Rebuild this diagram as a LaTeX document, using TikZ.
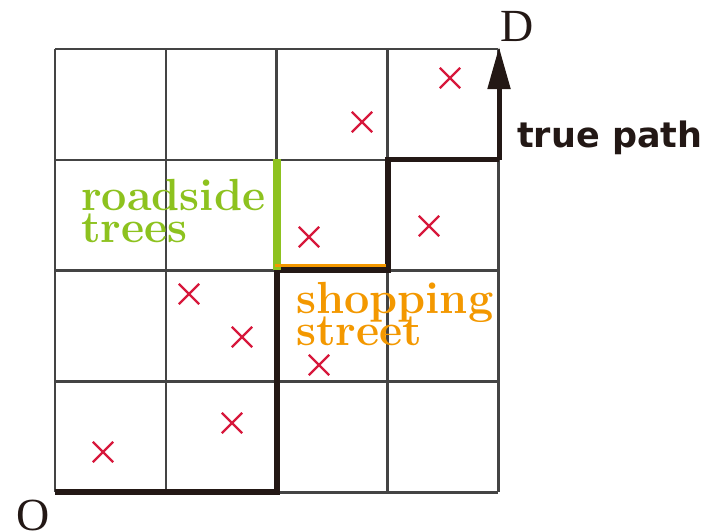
\documentclass[tikz,border=0pt]{standalone}
\usepackage{fontspec}
\newfontfamily\serifD{Liberation Serif}
\newfontfamily\sansT{DejaVu Sans}
\usetikzlibrary{arrows.meta,shapes.misc}
\definecolor{gridgray}{HTML}{444444}
\definecolor{pathblack}{HTML}{231815}
\definecolor{treegreen}{HTML}{8DC21F}
\definecolor{shoporange}{HTML}{F39800}
\definecolor{crossred}{HTML}{D7183C}
\tikzset{
  gridline/.style={draw=gridgray, line width=2.6pt},
  truepath/.style={draw=pathblack, line width=5.8pt, line join=miter},
  xmark/.style={cross out, draw=crossred, line width=2.3pt, minimum size=18pt, inner sep=0pt},
  endlabel/.style={font=\serifD\fontsize{46}{46}\selectfont, text=pathblack, inner sep=0pt},
  greenlabel/.style={font=\bfseries\fontsize{45}{32}\selectfont, text=treegreen, inner sep=0pt, anchor=base west},
  orangelabel/.style={font=\bfseries\fontsize{45}{32}\selectfont, text=shoporange, inner sep=0pt, anchor=base west},
}
\begin{document}
\begin{tikzpicture}[x=1pt,y=-1pt]
\useasboundingbox (0,0) rectangle (714,531);
% grid
\foreach \i in {0,...,4} {
  \draw[gridline] (55+110.8*\i,49) -- (55+110.8*\i,492.2);
  \draw[gridline] (55,49+110.8*\i) -- (498.2,49+110.8*\i);
}
% path corners
\coordinate (p0) at (55,492);
\coordinate (p1) at (277,492);
\coordinate (p2) at (277,270);
\coordinate (p3) at (388,270);
\coordinate (p4) at (388,159.5);
\coordinate (p5) at (499,159.5);
\coordinate (p6) at (499,47);
% roadside trees and shopping street edges
\coordinate (g0) at (277,159);
\coordinate (g1) at (277,270);
\coordinate (s0) at (275,265.5);
\coordinate (s1) at (386,265.5);
\draw[truepath] (p0) -- (p1) -- (p2) -- (p3) -- (p4) -- (p5);
\draw[draw=pathblack, line width=5pt, -{Triangle[length=42pt,width=22pt]}] (p5) -- (p6);
\draw[draw=treegreen, line width=8pt] (g0) -- (g1);
\draw[draw=shoporange, line width=3.5pt] (s0) -- (s1);
% crosses
\node[xmark] (x1) at (450,78) {};
\node[xmark] (x2) at (362,122) {};
\node[xmark] (x3) at (309,237) {};
\node[xmark] (x4) at (429,226) {};
\node[xmark] (x5) at (189,294) {};
\node[xmark] (x6) at (242,337) {};
\node[xmark] (x7) at (319,365) {};
\node[xmark] (x8) at (232,423) {};
\node[xmark] (x9) at (103,452) {};
% labels
\node[endlabel] (D) at (517,26) {D};
\node[endlabel] (O) at (33,515) {O};
\node[font=\sansT\bfseries\fontsize{35}{35}\selectfont, text=pathblack, inner sep=0pt, anchor=base west] (tp) at (517,147) {true path};
\node[greenlabel] (rt1) at (81,210) {roadside};
\node[greenlabel] (rt2) at (81,242) {trees};
\node[orangelabel] (ss1) at (296,313) {shopping};
\node[orangelabel] (ss2) at (296,345) {street};
\end{tikzpicture}
\end{document}
